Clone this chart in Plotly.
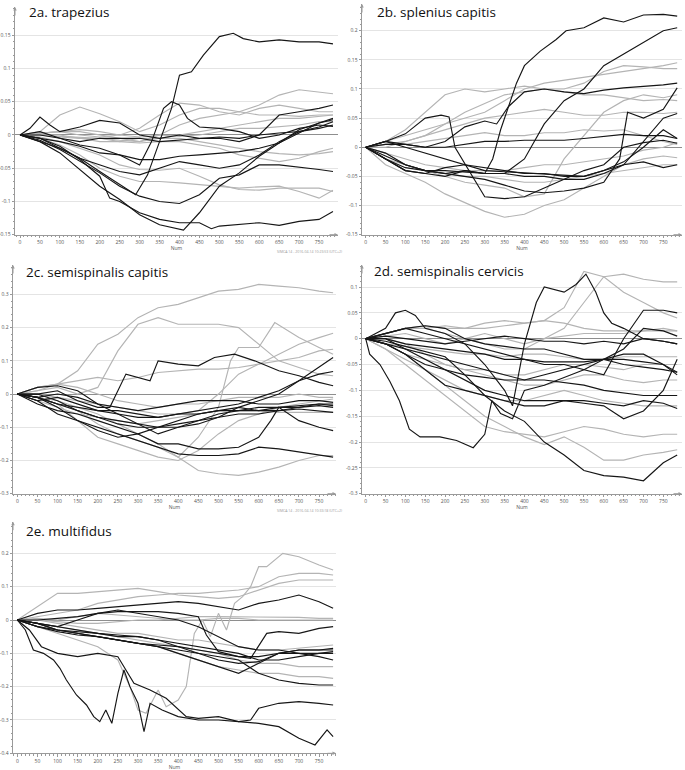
import plotly.graph_objects as go

# ---------------- data ----------------
X = [0, 50, 100, 150, 200, 250, 300, 350, 400, 450, 500, 550, 600, 650, 700, 750, 785]
x_ticks = [0, 50, 100, 150, 200, 250, 300, 350, 400, 450, 500, 550, 600, 650, 700, 750]

titles = ["2a. trapezius", "2b. splenius capitis", "2c. semispinalis capitis",
          "2d. semispinalis cervicis", "2e. multifidus"]

a_yticks = [-0.15, -0.1, -0.05, 0, 0.05, 0.1, 0.15]
a_ytext = ["-0.15", "-0.1", "-0.05", "0", "0.05", "0.1", "0.15"]
b_yticks = [-0.15, -0.1, -0.05, 0, 0.05, 0.1, 0.15, 0.2]
b_ytext = ["-0.15", "-0.1", "-0.05", "0", "0.05", "0.1", "0.15", "0.2"]
c_yticks = [-0.3, -0.2, -0.1, 0, 0.1, 0.2, 0.3]
c_ytext = ["-0.3", "-0.2", "-0.1", "0", "0.1", "0.2", "0.3"]
d_yticks = [-0.3, -0.25, -0.2, -0.15, -0.1, -0.05, 0, 0.05, 0.1]
d_ytext = ["-0.3", "-0.25", "-0.2", "-0.15", "-0.1", "-0.05", "0", "0.05", "0.1"]
e_yticks = [-0.4, -0.3, -0.2, -0.1, 0, 0.1, 0.2]
e_ytext = ["-0.4", "-0.3", "-0.2", "-0.1", "0", "0.1", "0.2"]

# ---- 2a trapezius ----
a_k1_x = [0, 50, 100, 150, 200, 250, 290, 320, 350, 380, 400, 430, 460, 500, 535, 560, 600, 650, 700, 750, 785]
a_k1 = [0, -0.005, -0.02, -0.035, -0.055, -0.075, -0.09, -0.06, -0.01, 0.04, 0.09, 0.095, 0.12, 0.148, 0.153, 0.145, 0.14, 0.143, 0.14, 0.14, 0.137]
a_k2_x = [0, 50, 100, 150, 200, 250, 300, 330, 360, 380, 400, 420, 450, 500, 550, 600, 650, 700, 750, 785]
a_k2 = [0, 0.005, -0.005, -0.015, -0.02, -0.03, -0.045, -0.01, 0.04, 0.05, 0.045, 0.025, 0.012, 0.01, 0.005, -0.005, 0.0, 0.01, 0.015, 0.013]
a_k3_x = [0, 25, 50, 75, 100, 150, 200, 250, 300, 350, 400, 450, 500, 550, 600, 650, 700, 750, 785]
a_k3 = [0, 0.01, 0.027, 0.015, 0.005, 0.012, 0.022, 0.018, 0.0, -0.005, 0.0, -0.005, -0.005, -0.01, 0.0, 0.03, 0.035, 0.04, 0.045]
a_k4_x = [0, 50, 100, 150, 200, 225, 250, 300, 350, 400, 450, 480, 500, 550, 600, 650, 700, 750, 785]
a_k4 = [0, -0.005, -0.017, -0.037, -0.062, -0.095, -0.1, -0.117, -0.127, -0.132, -0.132, -0.141, -0.137, -0.134, -0.132, -0.136, -0.13, -0.127, -0.115]
a_k5_x = [0, 50, 100, 150, 200, 250, 300, 350, 410, 450, 500, 550, 600, 650, 700, 750, 785]
a_k5 = [0, -0.01, -0.027, -0.052, -0.077, -0.097, -0.12, -0.135, -0.143, -0.117, -0.077, -0.057, -0.032, -0.012, 0.008, 0.018, 0.023]
a_k6 = [0, -0.008, -0.022, -0.04, -0.057, -0.077, -0.092, -0.1, -0.103, -0.09, -0.065, -0.06, -0.045, -0.045, -0.048, -0.052, -0.055]
a_k7 = [0, -0.005, -0.01, -0.017, -0.027, -0.03, -0.037, -0.037, -0.032, -0.03, -0.027, -0.025, -0.02, -0.012, 0.003, 0.018, 0.025]
a_k8 = [0, 0.0, -0.005, -0.01, -0.005, -0.005, -0.005, -0.01, -0.008, -0.005, -0.003, -0.005, 0.0, 0.003, 0.005, 0.01, 0.015]
a_k9 = [0, -0.01, -0.02, -0.035, -0.045, -0.055, -0.06, -0.05, -0.04, -0.045, -0.05, -0.045, -0.03, -0.01, 0.005, 0.012, 0.02]
a_g1 = [0, 0.005, 0.03, 0.042, 0.032, 0.02, 0.005, 0.015, 0.03, 0.04, 0.04, 0.035, 0.045, 0.06, 0.068, 0.065, 0.062]
a_g2 = [0, 0.002, 0.005, 0.005, 0.0, -0.005, -0.01, 0.0, 0.015, 0.025, 0.03, 0.035, 0.03, 0.03, 0.028, 0.03, 0.03]
a_g3 = [0, 0.0, 0.0, -0.005, -0.01, -0.01, -0.005, -0.005, 0.0, 0.005, 0.01, 0.015, 0.02, 0.025, 0.025, 0.028, 0.03]
a_g4 = [0, -0.003, -0.01, -0.02, -0.03, -0.045, -0.052, -0.053, -0.05, -0.062, -0.075, -0.082, -0.083, -0.08, -0.08, -0.08, -0.085]
a_g5 = [0, -0.005, -0.015, -0.03, -0.05, -0.062, -0.07, -0.07, -0.072, -0.075, -0.078, -0.08, -0.078, -0.077, -0.085, -0.095, -0.083]
a_g6 = [0, 0.0, -0.003, -0.005, -0.005, -0.01, -0.012, -0.01, -0.01, -0.015, -0.02, -0.03, -0.035, -0.04, -0.035, -0.025, -0.02]
a_g7 = [0, 0.0, -0.002, -0.003, -0.005, -0.008, -0.01, -0.005, -0.005, -0.01, -0.015, -0.02, -0.025, -0.028, -0.03, -0.028, -0.025]
a_g8 = [0, 0.002, 0.005, 0.0, -0.003, 0.0, -0.003, 0.0, -0.002, 0.0, 0.005, 0.01, 0.01, 0.012, 0.015, 0.02, 0.02]
a_g9 = [0, 0.003, 0.005, 0.008, 0.005, 0.0, 0.01, 0.03, 0.048, 0.045, 0.035, 0.03, 0.04, 0.045, 0.04, 0.035, 0.035]

# ---- 2b splenius capitis ----
b_k1_x = [0, 50, 100, 150, 200, 250, 300, 320, 340, 360, 380, 400, 440, 480, 505, 550, 600, 650, 700, 750, 785]
b_k1 = [0, -0.02, -0.035, -0.04, -0.04, -0.043, -0.045, -0.02, 0.03, 0.07, 0.11, 0.14, 0.165, 0.185, 0.2, 0.205, 0.222, 0.215, 0.227, 0.228, 0.225]
b_k2 = [0, -0.01, -0.03, -0.04, -0.045, -0.04, -0.045, -0.045, -0.02, 0.04, 0.08, 0.1, 0.14, 0.16, 0.18, 0.2, 0.205]
b_k3_x = [0, 50, 100, 150, 190, 210, 225, 260, 300, 350, 400, 450, 500, 550, 600, 650, 700, 750, 785]
b_k3 = [0, 0.01, 0.023, 0.05, 0.055, 0.052, 0.0, -0.04, -0.085, -0.088, -0.085, -0.07, -0.055, -0.04, -0.03, 0.0, 0.008, 0.012, 0.007]
b_k4 = [0, 0.005, 0.005, 0.0, 0.0, 0.005, 0.01, 0.01, 0.012, 0.012, 0.012, 0.015, 0.018, 0.022, 0.02, 0.02, 0.015]
b_k5_x = [0, 50, 100, 150, 200, 250, 300, 330, 360, 400, 450, 500, 550, 600, 650, 700, 750, 785]
b_k5 = [0, 0.01, 0.005, 0.0, 0.01, 0.035, 0.045, 0.04, 0.07, 0.095, 0.1, 0.095, 0.092, 0.098, 0.102, 0.104, 0.107, 0.11]
b_k6_x = [0, 50, 100, 150, 200, 250, 300, 350, 400, 450, 500, 550, 600, 640, 660, 700, 750, 785]
b_k6 = [0, -0.015, -0.03, -0.04, -0.045, -0.05, -0.055, -0.065, -0.075, -0.078, -0.075, -0.07, -0.06, -0.02, 0.06, 0.05, 0.065, 0.102]
b_k7 = [0, -0.02, -0.04, -0.045, -0.05, -0.04, -0.045, -0.045, -0.05, -0.05, -0.055, -0.055, -0.045, -0.03, 0.01, 0.05, 0.058]
b_k8 = [0, -0.02, -0.04, -0.045, -0.035, -0.03, -0.035, -0.04, -0.045, -0.045, -0.05, -0.05, -0.04, -0.03, -0.025, -0.035, -0.03]
b_k9 = [0, 0.01, 0.0, -0.01, -0.02, -0.03, -0.04, -0.042, -0.044, -0.045, -0.048, -0.05, -0.04, -0.025, 0.0, 0.03, 0.015]
b_g1 = [0, 0.01, 0.03, 0.06, 0.09, 0.1, 0.095, 0.1, 0.105, 0.1, 0.095, 0.09, 0.09, 0.085, 0.08, 0.082, 0.08]
b_g2 = [0, -0.03, -0.045, -0.06, -0.08, -0.095, -0.11, -0.12, -0.115, -0.1, -0.09, -0.07, -0.05, -0.03, -0.02, -0.015, -0.018]
b_g3 = [0, -0.01, -0.03, -0.04, -0.05, -0.06, -0.065, -0.07, -0.085, -0.08, -0.02, 0.02, 0.06, 0.08, 0.09, 0.085, 0.09]
b_g4 = [0, 0.01, 0.02, 0.03, 0.04, 0.05, 0.06, 0.08, 0.1, 0.11, 0.115, 0.12, 0.125, 0.13, 0.135, 0.14, 0.145]
b_g5 = [0, 0.0, 0.01, 0.02, 0.04, 0.06, 0.075, 0.09, 0.095, 0.1, 0.1, 0.11, 0.13, 0.14, 0.138, 0.135, 0.135]
b_g6 = [0, 0.005, 0.01, 0.02, 0.03, 0.04, 0.05, 0.055, 0.06, 0.065, 0.06, 0.055, 0.055, 0.06, 0.06, 0.058, 0.06]
b_g7 = [0, -0.01, -0.02, -0.03, -0.035, -0.04, -0.04, -0.04, -0.035, -0.03, -0.03, -0.025, -0.02, -0.015, -0.005, 0.0, 0.008]
b_g8 = [0, 0.005, 0.005, 0.01, 0.015, 0.02, 0.025, 0.02, 0.02, 0.025, 0.025, 0.03, 0.028, 0.03, 0.02, 0.01, 0.005]
b_g9 = [0, -0.02, -0.03, -0.04, -0.045, -0.05, -0.05, -0.055, -0.06, -0.06, -0.055, -0.05, -0.045, -0.04, -0.035, -0.03, -0.03]

# ---- 2c semispinalis capitis ----
c_g1 = [0, 0.02, 0.03, 0.07, 0.15, 0.18, 0.23, 0.26, 0.27, 0.29, 0.31, 0.315, 0.33, 0.325, 0.32, 0.31, 0.305]
c_g2 = [0, 0.01, 0.02, 0.0, 0.02, 0.13, 0.21, 0.23, 0.21, 0.21, 0.21, 0.2, 0.15, 0.1, 0.08, 0.06, 0.055]
c_g3_x = [0, 50, 100, 150, 200, 250, 300, 350, 400, 450, 500, 530, 550, 600, 640, 700, 750, 785]
c_g3 = [0, -0.01, -0.02, -0.04, -0.06, -0.09, -0.12, -0.15, -0.19, -0.13, -0.04, 0.1, 0.14, 0.14, 0.215, 0.17, 0.14, 0.12]
c_g4 = [0, 0.0, -0.01, -0.02, -0.03, -0.04, -0.05, -0.06, -0.06, -0.05, 0.0, 0.06, 0.09, 0.12, 0.15, 0.17, 0.183]
c_g5 = [0, -0.01, -0.03, -0.05, -0.09, -0.12, -0.14, -0.16, -0.19, -0.23, -0.24, -0.245, -0.235, -0.22, -0.2, -0.185, -0.185]
c_g6 = [0, 0.01, 0.03, 0.04, 0.05, 0.04, 0.05, 0.065, 0.07, 0.075, 0.075, 0.08, 0.09, 0.1, 0.11, 0.13, 0.135]
c_g7 = [0, 0.02, 0.03, 0.02, 0.0, -0.02, -0.03, -0.04, -0.03, -0.03, -0.02, -0.01, -0.01, -0.01, 0.0, -0.01, -0.01]
c_g8 = [0, -0.02, -0.04, -0.06, -0.07, -0.08, -0.09, -0.08, -0.07, -0.06, -0.05, -0.05, -0.05, -0.055, -0.055, -0.055, -0.055]
c_g9 = [0, -0.01, -0.03, -0.08, -0.13, -0.15, -0.17, -0.19, -0.2, -0.17, -0.12, -0.08, -0.06, -0.04, -0.03, -0.02, -0.015]
c_k1_x = [0, 50, 100, 150, 200, 230, 270, 300, 330, 350, 380, 400, 450, 490, 540, 590, 650, 700, 750, 785]
c_k1 = [0, 0.0, 0.01, -0.02, -0.04, -0.04, 0.06, 0.05, 0.04, 0.1, 0.095, 0.09, 0.085, 0.11, 0.12, 0.1, 0.07, 0.055, 0.035, 0.025]
c_k2 = [0, -0.01, -0.03, -0.05, -0.07, -0.08, -0.09, -0.1, -0.1, -0.09, -0.07, -0.04, -0.02, 0.0, 0.04, 0.08, 0.11]
c_k3 = [0, -0.02, -0.01, -0.03, -0.05, -0.06, -0.07, -0.07, -0.06, -0.05, -0.04, -0.03, -0.01, 0.01, 0.04, 0.06, 0.068]
c_k4 = [0, -0.02, -0.06, -0.08, -0.1, -0.12, -0.14, -0.16, -0.18, -0.185, -0.185, -0.18, -0.16, -0.165, -0.175, -0.185, -0.19]
c_k5_x = [0, 50, 100, 150, 200, 250, 300, 350, 400, 450, 500, 550, 600, 630, 650, 700, 750, 785]
c_k5 = [0, -0.03, -0.05, -0.06, -0.08, -0.1, -0.12, -0.15, -0.15, -0.165, -0.165, -0.16, -0.13, -0.08, -0.04, -0.08, -0.1, -0.11]
c_k6 = [0, 0.02, 0.025, 0.01, -0.03, -0.06, -0.09, -0.12, -0.1, -0.08, -0.06, -0.05, -0.05, -0.04, -0.035, -0.03, -0.03]
c_k7 = [0, -0.01, 0.0, -0.01, -0.03, -0.04, -0.05, -0.04, -0.03, -0.02, -0.02, -0.02, -0.03, -0.03, -0.02, -0.02, -0.025]
c_k8 = [0, -0.01, -0.03, -0.04, -0.05, -0.05, -0.06, -0.07, -0.06, -0.06, -0.05, -0.05, -0.04, -0.04, -0.04, -0.035, -0.04]
c_k9 = [0, 0.0, -0.02, -0.05, -0.07, -0.09, -0.1, -0.1, -0.09, -0.08, -0.07, -0.06, -0.06, -0.05, -0.04, -0.03, -0.035]
c_k10 = [0, -0.01, -0.04, -0.08, -0.11, -0.13, -0.12, -0.1, -0.08, -0.06, -0.05, -0.04, -0.05, -0.05, -0.045, -0.05, -0.055]

# ---- 2d semispinalis cervicis ----
d_k1_x = [0, 10, 36, 61, 85, 110, 137, 187, 229, 271, 300, 318, 340, 370, 400, 450, 500, 550, 600, 650, 700, 750, 785]
d_k1 = [0, -0.03, -0.05, -0.083, -0.12, -0.175, -0.19, -0.19, -0.197, -0.211, -0.185, -0.12, -0.145, -0.155, -0.1, -0.09, -0.075, -0.06, -0.04, -0.05, -0.055, -0.06, -0.065]
d_k2_x = [0, 50, 75, 100, 125, 150, 200, 250, 300, 350, 370, 400, 430, 450, 500, 530, 555, 580, 600, 620, 650, 700, 750, 785]
d_k2 = [0, 0.02, 0.05, 0.055, 0.045, 0.02, 0.01, -0.01, -0.05, -0.1, -0.13, -0.01, 0.07, 0.1, 0.09, 0.105, 0.125, 0.09, 0.05, 0.03, 0.02, 0.0, -0.005, -0.01]
d_k3 = [0, -0.005, -0.015, -0.025, -0.035, -0.07, -0.11, -0.14, -0.16, -0.2, -0.225, -0.255, -0.265, -0.268, -0.275, -0.24, -0.225]
d_k4 = [0, -0.01, -0.03, -0.06, -0.09, -0.1, -0.11, -0.12, -0.13, -0.13, -0.12, -0.125, -0.13, -0.155, -0.14, -0.1, -0.04]
d_k5 = [0, 0.01, 0.02, 0.01, 0.0, -0.01, -0.02, -0.03, -0.04, -0.05, -0.05, -0.06, -0.07, 0.0, 0.055, 0.055, 0.05]
d_k6 = [0, 0.01, 0.02, 0.025, 0.02, 0.0, -0.01, -0.015, -0.02, -0.02, -0.03, -0.04, -0.04, -0.02, 0.02, 0.015, 0.005]
d_k7 = [0, -0.01, -0.02, -0.03, -0.04, -0.05, -0.06, -0.07, -0.08, -0.08, -0.085, -0.09, -0.1, -0.105, -0.11, -0.11, -0.11]
d_k8 = [0, 0.0, -0.01, -0.015, -0.02, -0.025, -0.03, -0.04, -0.04, -0.045, -0.045, -0.045, -0.04, -0.04, -0.045, -0.05, -0.065]
d_k9 = [0, 0.005, 0.0, -0.005, -0.01, -0.005, 0.0, 0.005, 0.0, -0.005, -0.005, -0.01, -0.005, -0.01, 0.0, -0.005, -0.01]
d_k10 = [0, -0.01, -0.03, -0.05, -0.06, -0.07, -0.075, -0.08, -0.08, -0.07, -0.06, -0.05, -0.04, -0.03, -0.03, -0.05, -0.07]
d_k11 = [0, 0.0, -0.02, -0.04, -0.06, -0.08, -0.1, -0.11, -0.12, -0.12, -0.12, -0.12, -0.125, -0.13, -0.12, -0.125, -0.135]
d_g1 = [0, 0.01, 0.02, 0.02, 0.01, 0.0, -0.01, -0.02, -0.02, 0.0, 0.02, 0.07, 0.12, 0.125, 0.115, 0.11, 0.11]
d_g2 = [0, 0.01, 0.02, 0.025, 0.02, 0.02, 0.02, 0.025, 0.03, 0.035, 0.06, 0.13, 0.12, 0.09, 0.07, 0.05, 0.04]
d_g3 = [0, 0.01, 0.02, 0.02, 0.025, 0.02, 0.03, 0.035, 0.03, 0.035, 0.03, 0.02, 0.015, 0.015, 0.015, 0.02, 0.015]
d_g4 = [0, -0.02, -0.05, -0.08, -0.11, -0.14, -0.17, -0.18, -0.185, -0.19, -0.18, -0.17, -0.175, -0.185, -0.19, -0.185, -0.185]
d_g5 = [0, -0.01, -0.03, -0.06, -0.09, -0.12, -0.15, -0.17, -0.19, -0.205, -0.19, -0.21, -0.235, -0.235, -0.225, -0.22, -0.215]
d_g6 = [0, -0.02, -0.04, -0.06, -0.08, -0.1, -0.11, -0.12, -0.12, -0.11, -0.1, -0.11, -0.12, -0.125, -0.13, -0.13, -0.13]
d_g7 = [0, 0.0, -0.01, -0.03, -0.05, -0.06, -0.07, -0.08, -0.09, -0.09, -0.08, -0.07, -0.07, -0.08, -0.085, -0.08, -0.08]
d_g8 = [0, -0.01, -0.015, -0.02, -0.025, -0.03, -0.03, -0.035, -0.03, -0.03, -0.035, -0.04, -0.04, -0.035, -0.035, -0.035, -0.035]
d_g9 = [0, 0.005, 0.01, 0.0, -0.01, 0.0, 0.01, 0.0, -0.01, 0.0, 0.005, 0.01, 0.01, 0.01, 0.015, 0.015, 0.015]
d_g10 = [0, -0.01, -0.03, -0.04, -0.05, -0.06, -0.06, -0.07, -0.07, -0.06, -0.05, -0.05, -0.055, -0.06, -0.05, -0.05, -0.05]

# ---- 2e multifidus ----
e_k1_x = [0, 20, 40, 65, 90, 106, 122, 147, 172, 190, 205, 220, 235, 250, 265, 280, 300, 315, 330, 360, 400, 450, 500, 550, 580, 600, 650, 700, 750, 785]
e_k1 = [0, -0.03, -0.09, -0.1, -0.12, -0.145, -0.18, -0.225, -0.255, -0.29, -0.305, -0.27, -0.31, -0.22, -0.15, -0.2, -0.25, -0.335, -0.25, -0.27, -0.29, -0.3, -0.3, -0.305, -0.3, -0.265, -0.25, -0.245, -0.25, -0.255]
e_k2_x = [0, 30, 60, 100, 150, 200, 250, 290, 330, 370, 420, 450, 500, 550, 600, 650, 700, 740, 770, 785]
e_k2 = [0, -0.03, -0.08, -0.1, -0.11, -0.1, -0.11, -0.19, -0.21, -0.235, -0.29, -0.295, -0.29, -0.305, -0.31, -0.32, -0.355, -0.375, -0.33, -0.35]
e_k3 = [0, 0.02, 0.03, 0.03, 0.035, 0.04, 0.045, 0.05, 0.055, 0.05, 0.04, 0.03, 0.05, 0.06, 0.075, 0.055, 0.035]
e_k4_x = [0, 50, 100, 150, 200, 250, 300, 350, 400, 450, 470, 500, 550, 580, 620, 650, 700, 750, 785]
e_k4 = [0, 0.0, 0.005, 0.01, 0.02, 0.025, 0.025, 0.025, 0.02, 0.01, -0.045, -0.095, -0.11, -0.115, -0.04, -0.035, -0.04, -0.025, -0.02]
e_k5 = [0, -0.01, -0.03, -0.04, -0.05, -0.06, -0.07, -0.08, -0.09, -0.1, -0.11, -0.12, -0.16, -0.18, -0.19, -0.195, -0.195]
e_k6 = [0, -0.02, -0.035, -0.045, -0.05, -0.06, -0.07, -0.08, -0.1, -0.12, -0.14, -0.16, -0.13, -0.1, -0.09, -0.09, -0.085]
e_k7 = [0, -0.01, -0.03, -0.04, -0.05, -0.06, -0.07, -0.075, -0.08, -0.09, -0.1, -0.11, -0.11, -0.1, -0.09, -0.09, -0.09]
e_k8 = [0, -0.02, -0.03, -0.035, -0.04, -0.05, -0.05, -0.06, -0.07, -0.08, -0.09, -0.1, -0.12, -0.12, -0.11, -0.1, -0.1]
e_k9 = [0, -0.01, -0.02, -0.03, -0.04, -0.045, -0.05, -0.06, -0.08, -0.1, -0.12, -0.13, -0.125, -0.1, -0.1, -0.11, -0.12]
e_k10 = [0, -0.01, -0.02, 0.0, 0.02, 0.03, 0.02, 0.01, 0.0, -0.02, -0.05, -0.08, -0.09, -0.09, -0.1, -0.1, -0.095]
e_g1_x = [0, 50, 100, 150, 200, 250, 280, 300, 320, 350, 370, 400, 420, 440, 460, 480, 500, 520, 540, 560, 580, 600, 620, 660, 700, 750, 785]
e_g1 = [0, -0.02, -0.04, -0.06, -0.08, -0.12, -0.2, -0.27, -0.28, -0.21, -0.26, -0.24, -0.2, -0.04, 0.0, -0.05, 0.02, -0.03, 0.05, 0.07, 0.1, 0.16, 0.16, 0.2, 0.19, 0.165, 0.15]
e_g2 = [0, 0.04, 0.08, 0.08, 0.085, 0.09, 0.095, 0.085, 0.075, 0.07, 0.065, 0.07, 0.09, 0.11, 0.12, 0.12, 0.12]
e_g3 = [0, 0.01, 0.02, 0.03, 0.05, 0.06, 0.07, 0.075, 0.08, 0.08, 0.085, 0.09, 0.1, 0.13, 0.14, 0.14, 0.135]
e_g4 = [0, 0.0, -0.005, -0.01, -0.01, -0.005, 0.0, 0.0, 0.005, 0.01, 0.01, 0.01, 0.01, 0.01, 0.008, 0.005, 0.005]
e_g5 = [0, -0.01, -0.02, -0.03, -0.04, -0.05, -0.06, -0.07, -0.08, -0.09, -0.1, -0.12, -0.13, -0.13, -0.14, -0.14, -0.14]
e_g6 = [0, -0.02, -0.03, -0.04, -0.05, -0.06, -0.07, -0.08, -0.1, -0.12, -0.14, -0.15, -0.16, -0.16, -0.17, -0.17, -0.175]
e_g7 = [0, 0.0, -0.01, -0.02, -0.03, -0.04, -0.04, -0.05, -0.06, -0.06, -0.07, -0.08, -0.09, -0.09, -0.085, -0.08, -0.075]
e_g8 = [0, 0.005, 0.0, 0.01, 0.02, 0.015, 0.01, 0.005, 0.0, 0.0, 0.005, 0.005, 0.0, 0.0, 0.0, 0.0, 0.0]

# ---------------- grouping ----------------
panels = [
    dict(grey=[(X, a_g1), (X, a_g2), (X, a_g3), (X, a_g4), (X, a_g5), (X, a_g6), (X, a_g7), (X, a_g8), (X, a_g9)],
         black=[(a_k1_x, a_k1), (a_k2_x, a_k2), (a_k3_x, a_k3), (a_k4_x, a_k4), (a_k5_x, a_k5),
                (X, a_k6), (X, a_k7), (X, a_k8), (X, a_k9)],
         yt=a_yticks, ytt=a_ytext, ymin=-0.15, ymax=0.1925, minor=0.01,
         px=(15, 338, 20, 0.3987), py=(234.7, 7), title_xy=(27, 11.7)),
    dict(grey=[(X, b_g1), (X, b_g2), (X, b_g3), (X, b_g4), (X, b_g5), (X, b_g6), (X, b_g7), (X, b_g8), (X, b_g9)],
         black=[(b_k1_x, b_k1), (X, b_k2), (b_k3_x, b_k3), (X, b_k4), (b_k5_x, b_k5), (b_k6_x, b_k6),
                (X, b_k7), (X, b_k8), (X, b_k9)],
         yt=b_yticks, ytt=b_ytext, ymin=-0.15, ymax=0.2458, minor=0.01,
         px=(362, 682, 365.7, 0.3968), py=(234.7, 4), title_xy=(375, 12.3)),
    dict(grey=[(X, c_g1), (X, c_g2), (c_g3_x, c_g3), (X, c_g4), (X, c_g5), (X, c_g6), (X, c_g7), (X, c_g8), (X, c_g9)],
         black=[(c_k1_x, c_k1), (X, c_k2), (X, c_k3), (X, c_k4), (c_k5_x, c_k5), (X, c_k6), (X, c_k7),
                (X, c_k8), (X, c_k9), (X, c_k10)],
         yt=c_yticks, ytt=c_ytext, ymin=-0.3, ymax=0.3885, minor=0.02,
         px=(13, 336, 17.3, 0.4023), py=(493.7, 265), title_xy=(23.5, 271.5)),
    dict(grey=[(X, d_g1), (X, d_g2), (X, d_g3), (X, d_g4), (X, d_g5), (X, d_g6), (X, d_g7), (X, d_g8), (X, d_g9), (X, d_g10)],
         black=[(d_k1_x, d_k1), (d_k2_x, d_k2), (X, d_k3), (X, d_k4), (X, d_k5), (X, d_k6), (X, d_k7),
                (X, d_k8), (X, d_k9), (X, d_k10), (X, d_k11)],
         yt=d_yticks, ytt=d_ytext, ymin=-0.3, ymax=0.1426, minor=0.01,
         px=(362, 682, 365.7, 0.3968), py=(493.7, 265), title_xy=(371.7, 271)),
    dict(grey=[(e_g1_x, e_g1), (X, e_g2), (X, e_g3), (X, e_g4), (X, e_g5), (X, e_g6), (X, e_g7), (X, e_g8)],
         black=[(e_k1_x, e_k1), (e_k2_x, e_k2), (X, e_k3), (e_k4_x, e_k4), (X, e_k5), (X, e_k6), (X, e_k7),
                (X, e_k8), (X, e_k9), (X, e_k10)],
         yt=e_yticks, ytt=e_ytext, ymin=-0.4, ymax=0.295, minor=0.02,
         px=(13, 336, 17.3, 0.4023), py=(753.3, 521.7), title_xy=(23.5, 531)),
]

W, H = 685, 770
GREY = "#b4b4b4"
BLACK = "#161616"
AX = "#9a9a9a"

fig = go.Figure()
annotations = []
layout_axes = {}

for i, p in enumerate(panels, start=1):
    xa = "x" if i == 1 else f"x{i}"
    ya = "y" if i == 1 else f"y{i}"
    for col, group in ((GREY, p["grey"]), (BLACK, p["black"])):
        for xs, ys in group:
            fig.add_trace(go.Scatter(x=xs, y=ys, mode="lines", xaxis=xa, yaxis=ya,
                                     line=dict(color=col, width=1.15), hoverinfo="skip",
                                     showlegend=False))
    left, right, x0, sx = p["px"]
    bottom, top = p["py"]
    xr = [(left - x0) / sx, (right - x0) / sx]
    layout_axes["xaxis" if i == 1 else f"xaxis{i}"] = dict(
        domain=[left / W, right / W], range=xr, anchor=ya, automargin=False,
        showgrid=False, zeroline=False, showline=True, linecolor=AX, linewidth=1,
        ticks="outside", ticklen=2.5, tickwidth=0.8, tickcolor=AX,
        tickmode="array", tickvals=x_ticks, ticktext=[str(v) for v in x_ticks],
        tickfont=dict(size=5, color="#555", family="Open Sans"),
        minor=dict(ticks="outside", ticklen=1.5, tickwidth=0.6, tickcolor=AX,
                   tickmode="linear", tick0=0, dtick=10, showgrid=False),
        title=dict(text="Num", font=dict(size=5, color="#555", family="Open Sans"), standoff=1),
    )
    layout_axes["yaxis" if i == 1 else f"yaxis{i}"] = dict(
        domain=[1 - bottom / H, 1 - top / H], range=[p["ymin"], p["ymax"]], anchor=xa,
        automargin=False,
        showgrid=True, gridcolor="#e4e4e4", gridwidth=1,
        zeroline=True, zerolinecolor="#8e8e8e", zerolinewidth=1,
        showline=True, linecolor=AX, linewidth=1,
        ticks="outside", ticklen=2.5, tickwidth=0.8, tickcolor=AX,
        tickmode="array", tickvals=p["yt"], ticktext=p["ytt"],
        tickfont=dict(size=5, color="#555", family="Open Sans"),
        minor=dict(ticks="outside", ticklen=1.5, tickwidth=0.6, tickcolor=AX,
                   tickmode="linear", tick0=0, dtick=p["minor"], showgrid=False),
    )
    # axis arrow heads
    annotations.append(dict(xref="paper", yref="paper", x=left / W, y=1 - top / H,
                            ax=0, ay=10, text="", showarrow=True, arrowhead=2, arrowsize=0.7,
                            arrowwidth=1, arrowcolor=AX, standoff=0))
    annotations.append(dict(xref="paper", yref="paper", x=right / W, y=1 - bottom / H,
                            ax=-10, ay=0, text="", showarrow=True, arrowhead=2, arrowsize=0.7,
                            arrowwidth=1, arrowcolor=AX, standoff=0))
    tx, ty = p["title_xy"]
    annotations.append(dict(xref="paper", yref="paper", x=tx / W, y=1 - ty / H,
                            xanchor="left", yanchor="middle", text=titles[i - 1], showarrow=False,
                            font=dict(size=13.5, color="#111", family="Open Sans")))

annotations.append(dict(xref="paper", yref="paper", x=344 / W, y=1 - 251 / H, xanchor="right",
                        yanchor="middle", text="SIMCA 14 - 2016-04-14 10:23:53 (UTC+2)",
                        showarrow=False, font=dict(size=3.5, color="#9a9a9a", family="Open Sans")))
annotations.append(dict(xref="paper", yref="paper", x=344 / W, y=1 - 510 / H, xanchor="right",
                        yanchor="middle", text="SIMCA 14 - 2016-04-14 10:33:18 (UTC+2)",
                        showarrow=False, font=dict(size=3.5, color="#9a9a9a", family="Open Sans")))

fig.update_layout(width=W, height=H, autosize=False, margin=dict(l=0, r=0, t=0, b=0),
                  paper_bgcolor="white", plot_bgcolor="white", annotations=annotations,
                  **layout_axes)

fig.write_html("out.html", config={"displayModeBar": False},
               post_script="document.body.style.margin='0px';document.body.style.overflow='hidden';")
